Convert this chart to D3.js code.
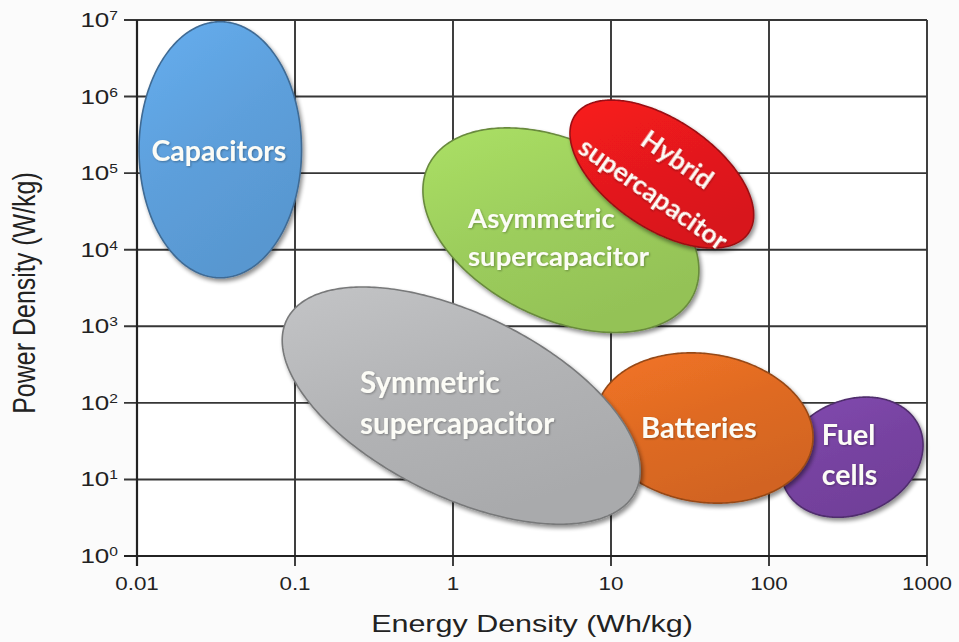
<!DOCTYPE html>
<html><head><meta charset="utf-8">
<script src="https://cdn.jsdelivr.net/npm/d3@7"></script>
<style>html,body{margin:0;padding:0;background:#fbfbfb;} svg{display:block;}</style>
</head><body>
<svg id="chart" width="959" height="642"></svg>
<script>
// ---- data ----
const technologies = ["Capacitors", "Asymmetric supercapacitor", "Hybrid supercapacitor",
                      "Fuel cells", "Batteries", "Symmetric supercapacitor"];
const energyMin = [0.0103, 0.645, 5.5, 119, 8.0, 0.083];    // Wh/kg
const energyMax = [0.110, 36.0, 80, 944, 190, 15.3];        // Wh/kg
const powerMin  = [4.3e3, 830, 1.05e4, 3.2, 4.9, 2.6];      // W/kg
const powerMax  = [9.5e6, 3.9e5, 9.0e5, 119, 450, 3.26e3];  // W/kg
const tilt      = [0, -0.39, -0.55, 0.2, -0.12, -0.55];     // log-log correlation of each region
const labelLines = [["Capacitors"], ["Asymmetric", "supercapacitor"], ["Hybrid", "supercapacitor"],
                    ["Fuel", "cells"], ["Batteries"], ["Symmetric", "supercapacitor"]];
const labelEnergy = [0.033, 1.245, 22.0, 216, 36, 0.258];
const labelPower  = [1.95e5, 1.47e4, 8.9e4, 20.8, 47, 98];

const xTicks = [0.01, 0.1, 1, 10, 100, 1000];
const xTickLabels = ["0.01", "0.1", "1", "10", "100", "1000"];
const yTicks = [1, 10, 100, 1e3, 1e4, 1e5, 1e6, 1e7];
const yTickExponents = ["0", "1", "2", "3", "4", "5", "6", "7"];
const xTitle = "Energy Density (Wh/kg)";
const yTitle = "Power Density (W/kg)";

// ---- styles ----
const fillColors = ["#5d9fdb", "#9ccd5c", "#e4191b", "#7743a1", "#de6a23", "#b2b3b5"];
const labelStyle = [
  {anchor: "middle", size: 28.5, gap: 0, rotate: 0},
  {anchor: "start", size: 27.5, gap: 38, rotate: 0},
  {anchor: "middle", size: 26.5, gap: 42, rotate: 35},
  {anchor: "start", size: 28.5, gap: 40, rotate: 0},
  {anchor: "middle", size: 29, gap: 0, rotate: 0},
  {anchor: "start", size: 29.5, gap: 41, rotate: 0}
];

const W = 959, H = 642;
const margin = {left: 137, right: 32, top: 20, bottom: 86};
const svg = d3.select("#chart");
const x = d3.scaleLog().domain([0.01, 1000]).range([margin.left, W - margin.right]);
const y = d3.scaleLog().domain([1, 1e7]).range([H - margin.bottom, margin.top]);

svg.append("rect").attr("width", W).attr("height", H).attr("fill", "#fbfbfb");
svg.append("rect").attr("x", x(0.01)).attr("y", y(1e7))
  .attr("width", x(1000) - x(0.01)).attr("height", y(1) - y(1e7)).attr("fill", "#ffffff");

const defs = svg.append("defs");
const f = defs.append("filter").attr("id", "shadow").attr("x", "-20%").attr("y", "-20%")
  .attr("width", "140%").attr("height", "140%");
f.append("feGaussianBlur").attr("in", "SourceAlpha").attr("stdDeviation", 2.2);
f.append("feOffset").attr("dx", 2).attr("dy", 3).attr("result", "ob");
f.append("feComponentTransfer").append("feFuncA").attr("type", "linear").attr("slope", 0.45);
const fm = f.append("feMerge");
fm.append("feMergeNode");
fm.append("feMergeNode").attr("in", "SourceGraphic");

const tf = defs.append("filter").attr("id", "tshadow").attr("x", "-10%").attr("y", "-30%")
  .attr("width", "120%").attr("height", "160%");
tf.append("feGaussianBlur").attr("in", "SourceAlpha").attr("stdDeviation", 1.2);
tf.append("feOffset").attr("dx", 0.5).attr("dy", 1);
tf.append("feComponentTransfer").append("feFuncA").attr("type", "linear").attr("slope", 0.3);
const tfm = tf.append("feMerge");
tfm.append("feMergeNode");
tfm.append("feMergeNode").attr("in", "SourceGraphic");

fillColors.forEach((c, i) => {
  const g = defs.append("linearGradient").attr("id", "grad" + i)
    .attr("x1", 0).attr("y1", 0).attr("x2", 0.5).attr("y2", 1);
  g.append("stop").attr("offset", "0%").attr("stop-color", d3.color(c).brighter(0.25));
  g.append("stop").attr("offset", "55%").attr("stop-color", c);
  g.append("stop").attr("offset", "100%").attr("stop-color", d3.color(c).darker(0.15));
});

// ---- grid ----
const grid = svg.append("g").attr("stroke", "#363636").attr("stroke-width", 1.9);
grid.selectAll("line.v").data(xTicks).join("line").attr("class", "v")
  .attr("x1", d => x(d)).attr("x2", d => x(d))
  .attr("y1", y(1e7)).attr("y2", y(1) + 10);
grid.selectAll("line.h").data(yTicks).join("line").attr("class", "h")
  .attr("x1", x(0.01) - 13).attr("x2", x(1000))
  .attr("y1", d => y(d)).attr("y2", d => y(d));
// axes
svg.append("line").attr("x1", x(0.01)).attr("x2", x(0.01)).attr("y1", y(1e7)).attr("y2", y(1) + 10)
  .attr("stroke", "#222").attr("stroke-width", 2.2);
svg.append("line").attr("x1", x(0.01) - 13).attr("x2", x(1000)).attr("y1", y(1)).attr("y2", y(1))
  .attr("stroke", "#222").attr("stroke-width", 2.2);

// ---- regions ----
function regionPath(i) {
  const lx0 = Math.log10(energyMin[i]), lx1 = Math.log10(energyMax[i]);
  const ly0 = Math.log10(powerMin[i]), ly1 = Math.log10(powerMax[i]);
  const cx = (lx0 + lx1) / 2, hw = (lx1 - lx0) / 2;
  const cy = (ly0 + ly1) / 2, hh = (ly1 - ly0) / 2;
  const r = tilt[i], s = Math.sqrt(1 - r * r);
  const pts = d3.range(0, 360, 1).map(a => {
    const t = a * Math.PI / 180;
    return [Math.pow(10, cx + hw * Math.cos(t)), Math.pow(10, cy + hh * (r * Math.cos(t) + s * Math.sin(t)))];
  });
  return d3.line().x(d => x(d[0])).y(d => y(d[1])).curve(d3.curveLinearClosed)(pts);
}

const regions = svg.append("g");
technologies.forEach((t, i) => {
  const c = fillColors[i];
  const g = regions.append("g");
  g.append("path").attr("d", regionPath(i))
    .attr("fill", `url(#grad${i})`)
    .attr("stroke", d3.color(c).darker(1.1))
    .attr("stroke-width", 1.6)
    .attr("filter", "url(#shadow)");
  const st = labelStyle[i];
  const px = x(labelEnergy[i]), py = y(labelPower[i]);
  const lines = labelLines[i];
  const txt = g.append("text")
    .attr("transform", `translate(${px},${py}) rotate(${st.rotate})`)
    .attr("text-anchor", st.anchor)
    .attr("font-family", "Lato, 'Open Sans', sans-serif")
    .attr("font-weight", 700)
    .attr("font-size", st.size)
    .attr("fill", "#fcfcf6")
    .attr("filter", "url(#tshadow)");
  lines.forEach((ln, k) => {
    txt.append("tspan").attr("x", 0)
      .attr("y", (k - (lines.length - 1) / 2) * st.gap)
      .attr("dy", "0.35em")
      .text(ln);
  });
});

// ---- tick labels ----
const axisFont = "'Liberation Sans', Arial, sans-serif";
svg.append("g").selectAll("text").data(xTicks).join("text")
  .attr("transform", (d) => `translate(${x(d)},590) scale(1.18,1)`)
  .attr("text-anchor", "middle").attr("font-family", axisFont).attr("font-size", 19)
  .attr("fill", "#222")
  .text((d, i) => xTickLabels[i]);

const yl = svg.append("g").selectAll("text").data(yTicks).join("text")
  .attr("transform", d => `translate(118,${y(d) + 7}) scale(1.3,1)`)
  .attr("text-anchor", "end").attr("font-family", axisFont).attr("font-size", 20)
  .attr("fill", "#222");
yl.append("tspan").text("10");
yl.append("tspan").attr("font-size", 12).attr("dy", -7).text((d, i) => yTickExponents[i]);

// ---- titles ----
svg.append("text").attr("transform", "translate(532,632) scale(1.27,1)")
  .attr("text-anchor", "middle").attr("font-family", axisFont).attr("font-size", 24)
  .attr("fill", "#222").text(xTitle);
svg.append("text").attr("transform", "translate(35,293) rotate(-90) scale(1,1.22)")
  .attr("text-anchor", "middle").attr("font-family", axisFont).attr("font-size", 25)
  .attr("fill", "#222").text(yTitle);
</script>
</body></html>
